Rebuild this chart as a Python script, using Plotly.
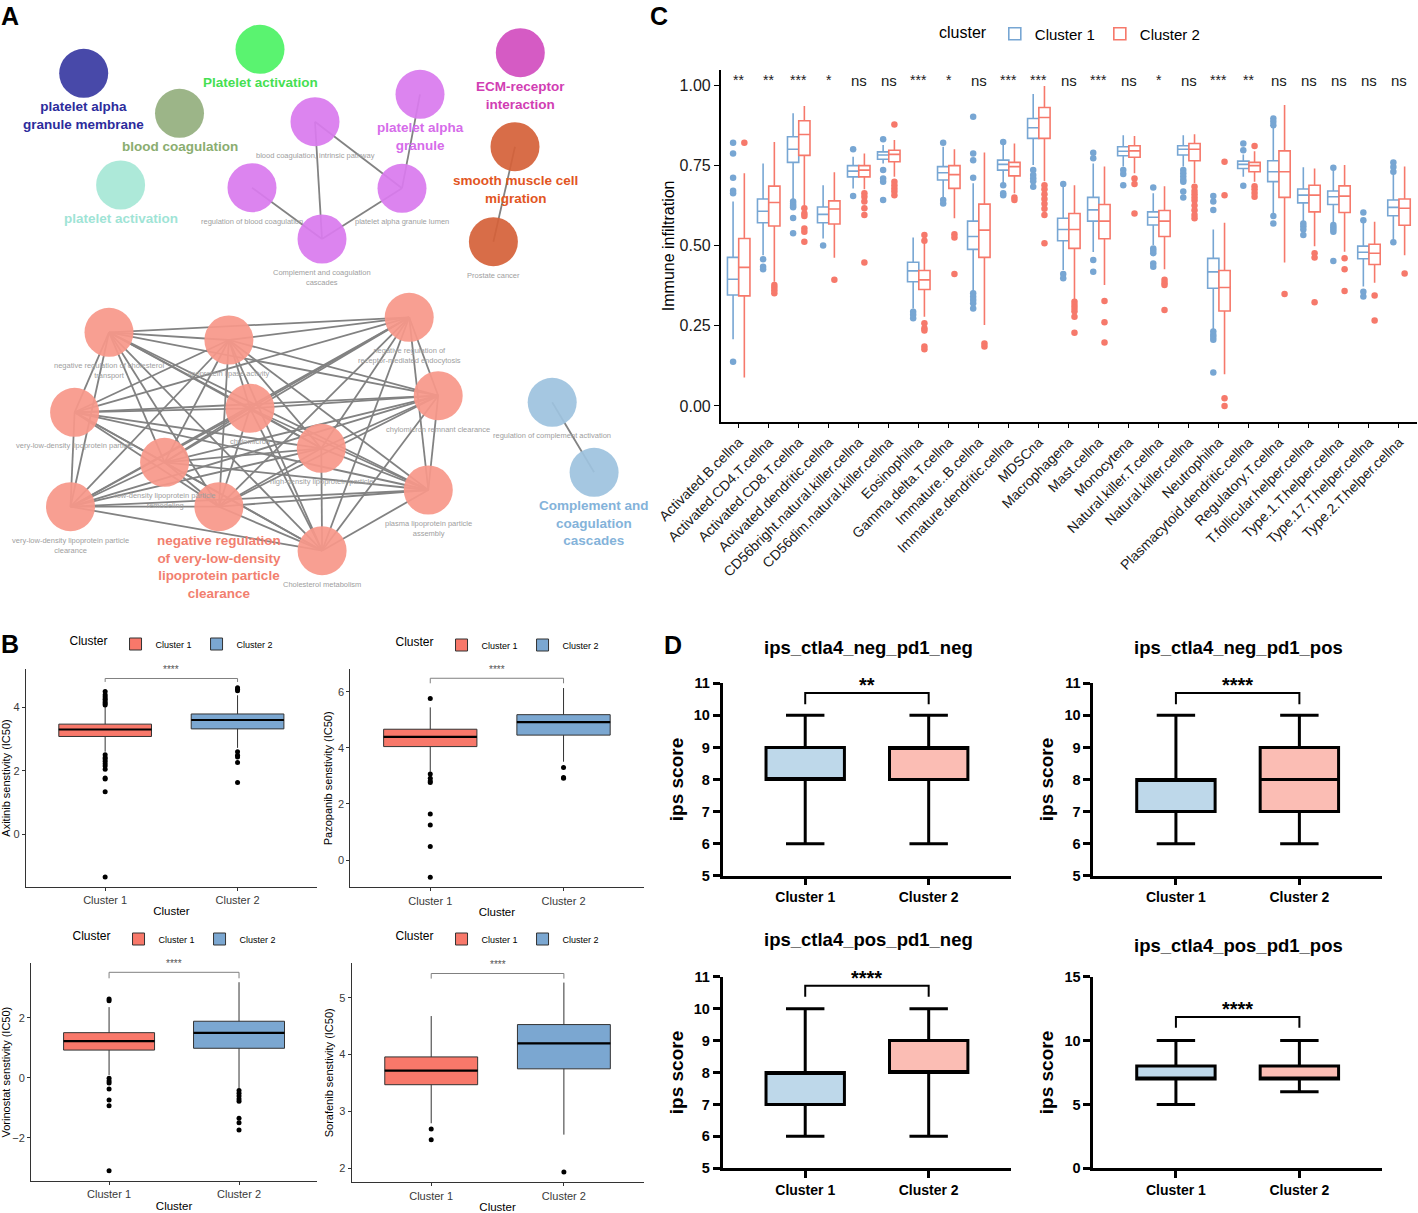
import itertools
import plotly.graph_objects as go

W, H = 1418, 1213
FONT = "Arial, Liberation Sans, sans-serif"

# ===================== DATA =====================
# ---- Panel A: enrichment network (node layout in panel units) ----
a_labels = [
    "platelet alpha<br>granule membrane", "Platelet activation", "blood coagulation",
    "platelet activation", "ECM-receptor<br>interaction",
    "blood coagulation, intrinsic pathway", "platelet alpha<br>granule",
    "regulation of blood coagulation", "platelet alpha granule lumen",
    "Complement and coagulation<br>cascades",
    "smooth muscle cell<br>migration", "Prostate cancer",
    "negative regulation of cholesterol<br>transport", "lipoprotein lipase activity",
    "negative regulation of<br>receptor-mediated endocytosis",
    "very-low-density lipoprotein particle", "chylomicron", "chylomicron remnant clearance",
    "high-density lipoprotein particle", "low-density lipoprotein particle<br>remodeling",
    "very-low-density lipoprotein particle<br>clearance",
    "negative regulation<br>of very-low-density<br>lipoprotein particle<br>clearance",
    "plasma lipoprotein particle<br>assembly", "Cholesterol metabolism",
    "regulation of complement activation", "Complement and<br>coagulation<br>cascades",
]
a_node_x = [83.7, 260, 179.5, 120.6, 520.3, 315, 420, 252, 402, 322, 515, 493.4,
            109, 228.9, 409.2, 74.6, 250, 438.2, 321.3, 164.6, 70.5, 218.9, 428.3, 322.1,
            552.2, 594.1]
a_node_y = [73.3, 49.3, 113.3, 185, 52.7, 121.7, 94.3, 187.7, 188.3, 239, 146.7, 241.7,
            332.3, 340, 317.3, 412.3, 408.3, 395.7, 448.3, 462.3, 506.7, 506.7, 490, 550.7,
            402.3, 472.3]
a_node_group = ["navy", "green", "olive", "mint", "magenta",
                "violet", "violet", "violet", "violet", "violet",
                "orange", "orange"] + ["salmon"] * 12 + ["blue", "blue"]
a_label_major = [True, True, True, True, True,
                 False, True, False, False, False,
                 True, False,
                 False, False, False, False, False, False, False, False, False, True, False, False,
                 False, True]
a_edges = [(5, 9), (5, 8), (6, 8), (7, 9), (8, 9), (10, 11), (24, 25)] + \
    list(itertools.combinations(range(12, 24), 2))

# ---- Panel C: ssGSEA immune infiltration ----
c_categories = ["Activated.B.cellna", "Activated.CD4.T.cellna", "Activated.CD8.T.cellna",
                "Activated.dendritic.cellna", "CD56bright.natural.killer.cellna",
                "CD56dim.natural.killer.cellna", "Eosinophilna", "Gamma.delta.T.cellna",
                "Immature..B.cellna", "Immature.dendritic.cellna", "MDSCna", "Macrophagena",
                "Mast.cellna", "Monocytena", "Natural.killer.T.cellna", "Natural.killer.cellna",
                "Neutrophilna", "Plasmacytoid.dendritic.cellna", "Regulatory.T.cellna",
                "T.follicular.helper.cellna", "Type.1.T.helper.cellna",
                "Type.17.T.helper.cellna", "Type.2.T.helper.cellna"]
c_sig = ["**", "**", "***", "*", "ns", "ns", "***", "*", "ns", "***", "***", "ns", "***",
         "ns", "*", "ns", "***", "**", "ns", "ns", "ns", "ns", "ns"]

c1_low = [0.208, 0.47, 0.642, 0.522, 0.678, 0.756, 0.304, 0.642, 0.356, 0.694, 0.751, 0.424,
          0.48, 0.746, 0.502, 0.746, 0.237, 0.714, 0.60, 0.574, 0.569, 0.372, 0.517]
c1_q1 = [0.346, 0.571, 0.759, 0.571, 0.714, 0.769, 0.387, 0.704, 0.488, 0.735, 0.834, 0.515,
         0.576, 0.78, 0.564, 0.782, 0.367, 0.74, 0.699, 0.633, 0.628, 0.459, 0.593]
c1_med = [0.395, 0.607, 0.80, 0.597, 0.732, 0.782, 0.421, 0.727, 0.528, 0.753, 0.867, 0.55,
          0.611, 0.794, 0.588, 0.80, 0.418, 0.753, 0.73, 0.657, 0.652, 0.479, 0.619]
c1_q3 = [0.463, 0.645, 0.839, 0.62, 0.749, 0.792, 0.448, 0.746, 0.576, 0.766, 0.896, 0.585,
         0.65, 0.808, 0.605, 0.811, 0.46, 0.763, 0.764, 0.676, 0.67, 0.498, 0.642]
c1_high = [0.637, 0.756, 0.912, 0.688, 0.777, 0.813, 0.525, 0.808, 0.694, 0.818, 0.972, 0.688,
           0.756, 0.844, 0.663, 0.844, 0.55, 0.784, 0.881, 0.744, 0.74, 0.579, 0.74]
c1_outliers = [
    [0.82, 0.787, 0.711, 0.671, 0.663, 0.138], [0.457, 0.434, 0.426],
    [0.637, 0.630, 0.624, 0.619, 0.586, 0.538], [0.50], [0.80, 0.654],
    [0.831, 0.735, 0.709, 0.699, 0.642], [0.294, 0.284, 0.273], [0.82, 0.642, 0.631],
    [0.901, 0.787, 0.766, 0.711, 0.351, 0.34, 0.33, 0.32, 0.304], [0.823, 0.688, 0.663, 0.657],
    [0.735, 0.72, 0.71, 0.70, 0.683], [0.692, 0.411, 0.398], [0.789, 0.772, 0.455, 0.418],
    [0.735, 0.723, 0.688], [0.681, 0.491, 0.484, 0.476, 0.444, 0.434],
    [0.735, 0.725, 0.715, 0.705, 0.699, 0.668, 0.65],
    [0.654, 0.637, 0.611, 0.232, 0.222, 0.215, 0.206, 0.104], [0.818, 0.797, 0.686],
    [0.896, 0.886, 0.875, 0.592, 0.569], [0.569, 0.56, 0.55, 0.533],
    [0.742, 0.564, 0.557, 0.55, 0.543, 0.452], [0.603, 0.579, 0.356, 0.341],
    [0.759, 0.745, 0.73, 0.51]]

c2_low = [0.089, 0.387, 0.625, 0.462, 0.675, 0.714, 0.278, 0.585, 0.252, 0.663, 0.70, 0.33,
          0.377, 0.725, 0.426, 0.695, 0.099, 0.699, 0.447, 0.498, 0.481, 0.384, 0.47]
c2_q1 = [0.343, 0.561, 0.781, 0.567, 0.714, 0.761, 0.363, 0.678, 0.463, 0.717, 0.834, 0.491,
         0.521, 0.775, 0.528, 0.764, 0.296, 0.73, 0.65, 0.605, 0.603, 0.441, 0.563]
c2_med = [0.432, 0.634, 0.846, 0.614, 0.735, 0.784, 0.393, 0.721, 0.548, 0.746, 0.899, 0.55,
          0.576, 0.795, 0.576, 0.80, 0.369, 0.749, 0.73, 0.657, 0.654, 0.476, 0.616]
c2_q3 = [0.522, 0.685, 0.889, 0.639, 0.749, 0.797, 0.422, 0.749, 0.629, 0.759, 0.930, 0.60,
         0.628, 0.811, 0.609, 0.818, 0.422, 0.759, 0.795, 0.688, 0.686, 0.504, 0.645]
c2_high = [0.725, 0.823, 0.935, 0.728, 0.787, 0.829, 0.517, 0.80, 0.79, 0.818, 0.997, 0.688,
           0.746, 0.841, 0.685, 0.847, 0.571, 0.794, 0.938, 0.74, 0.751, 0.574, 0.746]
c2_outliers = [
    [0.82], [0.377, 0.369, 0.361, 0.351], [0.616, 0.60, 0.592, 0.553, 0.543, 0.512], [0.393],
    [0.663, 0.652, 0.637, 0.616, 0.595, 0.447], [0.877, 0.699, 0.688, 0.678, 0.668, 0.657],
    [0.533, 0.515, 0.258, 0.242, 0.235, 0.185, 0.177], [0.535, 0.525, 0.411], [0.195, 0.185],
    [0.65, 0.642], [0.688, 0.675, 0.66, 0.645, 0.63, 0.615, 0.595, 0.507],
    [0.325, 0.315, 0.305, 0.295, 0.278, 0.228], [0.327, 0.261, 0.198], [0.709, 0.692, 0.60],
    [0.393, 0.384, 0.377, 0.299],
    [0.683, 0.67, 0.66, 0.65, 0.64, 0.625, 0.61, 0.595, 0.585], [0.761, 0.657, 0.024, 0.0],
    [0.81, 0.685, 0.675, 0.664, 0.652], [0.349], [0.476, 0.463, 0.323], [0.46, 0.426, 0.358],
    [0.344, 0.266], [0.413]]

# ---- Panel B: drug sensitivity (IC50) ----
b_drugs = ["Axitinib", "Pazopanib", "Vorinostat", "Sorafenib"]
b_groups = ["Cluster 1", "Cluster 2"]
b_c1_low = [2.6, 3.15, 0.09, 2.79]
b_c1_q1 = [3.08, 4.05, 0.92, 3.47]
b_c1_med = [3.30, 4.40, 1.22, 3.72]
b_c1_q3 = [3.47, 4.67, 1.50, 3.96]
b_c1_high = [4.02, 5.45, 2.35, 4.68]
b_c1_out = [[4.5, 4.4, 4.33, 4.27, 4.23, 4.17, 4.12, 4.07, 2.5, 2.42, 2.37, 2.3, 2.22, 2.15,
             2.05, 1.77, 1.74, 1.34, -1.35],
            [5.77, 3.07, 2.92, 2.82, 2.77, 1.64, 1.25, 0.48, -0.62],
            [2.62, 2.56, -0.02, -0.11, -0.18, -0.38, -0.74, -0.93, -3.1],
            [2.69, 2.5]]
b_c2_low = [2.72, 3.51, -0.35, 2.59]
b_c2_q1 = [3.32, 4.46, 0.98, 3.75]
b_c2_med = [3.60, 4.92, 1.49, 4.20]
b_c2_q3 = [3.79, 5.19, 1.88, 4.53]
b_c2_high = [4.38, 6.14, 3.18, 5.27]
b_c2_out = [[4.62, 4.57, 4.52, 2.6, 2.49, 2.43, 2.26, 1.63],
            [3.3, 2.95, 2.92],
            [-0.43, -0.52, -0.61, -0.71, -0.78, -1.35, -1.50, -1.74],
            [1.93]]
b_sig = ["****", "****", "****", "****"]

# ---- Panel D: immunophenoscore ----
d_titles = ["ips_ctla4_neg_pd1_neg", "ips_ctla4_neg_pd1_pos",
            "ips_ctla4_pos_pd1_neg", "ips_ctla4_pos_pd1_pos"]
d_sig = ["**", "****", "****", "****"]
d_c1_min = [6, 6, 6, 5]
d_c1_q1 = [8, 7, 7, 7]
d_c1_med = [8, 8, 8, 7]
d_c1_q3 = [9, 8, 8, 8]
d_c1_max = [10, 10, 10, 10]
d_c2_min = [6, 6, 6, 6]
d_c2_q1 = [8, 7, 8, 7]
d_c2_med = [9, 8, 8, 7]
d_c2_q3 = [9, 9, 9, 8]
d_c2_max = [10, 10, 10, 10]

# ===================== STYLE / GEOMETRY =====================
node_colors = {"navy": "#3A3BA3", "green": "#4DF265", "olive": "#94AF7F", "mint": "#A7E7D6",
               "magenta": "#D24FBF", "violet": "#D97BEE", "orange": "#D5623A",
               "salmon": "#F8988A", "blue": "#9EC3DF"}
label_colors = {"navy": "#2C2C9C", "green": "#45E052", "olive": "#8AAD70", "mint": "#9FE4D6",
                "magenta": "#D13DB3", "violet": "#D66CEA", "orange": "#E2561F",
                "salmon": "#F27F6F", "blue": "#84B3DA"}
C_BLUE, C_RED = "#77A6D3", "#F6796B"
B_RED, B_BLUE = "#F8786A", "#7BA7D1"
D_BLUE, D_PINK = "#BED8EA", "#FBBDB4"


def dom_x(a, b):
    return [a / W, b / W]


def dom_y(top, bottom):
    return [1 - bottom / H, 1 - top / H]


fig = go.Figure()
layout = dict(width=W, height=H, margin=dict(l=0, r=0, t=0, b=0, pad=0), autosize=False,
              paper_bgcolor="white", plot_bgcolor="white", boxmode="overlay",
              font=dict(family=FONT, color="black"), hovermode=False)
ann = []

# ===================== PANEL A =====================
ex, ey = [], []
for i, j in a_edges:
    ex += [a_node_x[i], a_node_x[j], None]
    ey += [a_node_y[i], a_node_y[j], None]
fig.add_trace(go.Scatter(x=ex, y=ey, mode="lines", line=dict(color="#828282", width=1.8),
                         showlegend=False, xaxis="x", yaxis="y"))
fig.add_trace(go.Scatter(x=a_node_x, y=a_node_y, mode="markers",
                         marker=dict(size=49, color=[node_colors[g] for g in a_node_group],
                                     opacity=0.93, line=dict(width=0)),
                         showlegend=False, xaxis="x", yaxis="y"))
for i, txt in enumerate(a_labels):
    major = a_label_major[i]
    ann.append(dict(x=a_node_x[i], y=a_node_y[i], xref="x", yref="y", text=txt,
                    showarrow=False, xanchor="center", yanchor="top",
                    yshift=-24 if major else -27,
                    font=dict(size=13.5 if major else 7.5,
                              color=label_colors[a_node_group[i]] if major else "#A0A0A0",
                              weight="bold" if major else "normal"),
                    align="center"))
layout["xaxis"] = dict(domain=dom_x(0, 650), range=[0, 650], visible=False, fixedrange=True,
                       automargin=False)
layout["yaxis"] = dict(domain=dom_y(0, 610), range=[610, 0], visible=False, fixedrange=True,
                       automargin=False)

# ===================== PANEL C =====================
n_c = len(c_categories)
dodge = 0.1875
for name, shift, low, q1, med, q3, high, outs, col in [
        ("Cluster 1", -dodge, c1_low, c1_q1, c1_med, c1_q3, c1_high, c1_outliers, C_BLUE),
        ("Cluster 2", dodge, c2_low, c2_q1, c2_med, c2_q3, c2_high, c2_outliers, C_RED)]:
    pos = [i + shift for i in range(n_c)]
    fig.add_trace(go.Box(x=pos, q1=q1, median=med, q3=q3, lowerfence=low, upperfence=high,
                         width=2 * dodge, whiskerwidth=0, boxpoints=False, fillcolor="white",
                         line=dict(color=col, width=1.6), name=name, legend="legend",
                         xaxis="x2", yaxis="y2"))
    ox, oy = [], []
    for p, vals in zip(pos, outs):
        ox += [p] * len(vals)
        oy += vals
    fig.add_trace(go.Scatter(x=ox, y=oy, mode="markers", marker=dict(color=col, size=6.5),
                             showlegend=False, xaxis="x2", yaxis="y2"))
for i, s in enumerate(c_sig):
    ann.append(dict(x=i, y=1.015, xref="x2", yref="y2", text=s, showarrow=False,
                    xanchor="center", yanchor="middle",
                    font=dict(size=15 if s == "ns" else 14, color="#1a1a1a")))
layout["xaxis2"] = dict(domain=dom_x(720.7, 1417), anchor="y2", range=[-0.6, n_c - 0.4],
                        tickvals=list(range(n_c)), ticktext=c_categories, tickangle=-45,
                        ticks="outside", ticklen=5, tickcolor="black", showline=True,
                        linecolor="black", linewidth=1.5, showgrid=False, zeroline=False,
                        tickfont=dict(size=14, color="#1a1a1a"), automargin=False)
layout["yaxis2"] = dict(domain=dom_y(70, 421.7), anchor="x2", range=[-0.049, 1.047],
                        tickvals=[0, 0.25, 0.5, 0.75, 1.0],
                        ticktext=["0.00", "0.25", "0.50", "0.75", "1.00"],
                        ticks="outside", ticklen=5, tickcolor="black", showline=True,
                        linecolor="black", linewidth=1.5, showgrid=False, zeroline=False,
                        tickfont=dict(size=16, color="#1a1a1a"), automargin=False,
                        title=dict(text="Immune infiltration", font=dict(size=16), standoff=1))
layout["legend"] = dict(orientation="h", x=1071 / W, xanchor="center", y=1 - 34 / H,
                        yanchor="middle", title=dict(text="cluster", side="left",
                                                     font=dict(size=16)),
                        font=dict(size=15), bgcolor="rgba(0,0,0,0)", itemwidth=30)

# ===================== PANEL B =====================
b_dom = [((25.7, 317), (669.3, 886.7)), ((350.3, 643.5), (669.3, 887.3)),
         ((31.1, 317), (963.3, 1181)), ((351.6, 643.5), (963.3, 1182.3))]
b_yrange = [(-1.66, 5.2), (-0.975, 6.81), (-3.44, 3.81), (1.75, 5.61)]
b_ticks = [[0, 2, 4], [0, 2, 4, 6], [-2, 0, 2], [2, 3, 4, 5]]
b_bracket = [(4.8, 4.91), (6.31, 6.49), (3.31, 3.51), (5.34, 5.43)]
b_legend_pos = [(173, 644), (499, 645), (176, 939), (499, 939)]
for k, drug in enumerate(b_drugs):
    ax = 3 + k
    xa, ya = f"x{ax}", f"y{ax}"
    lg = f"legend{k + 2}"
    for g, col, low, q1, med, q3, high, outs in [
            (b_groups[0], B_RED, b_c1_low, b_c1_q1, b_c1_med, b_c1_q3, b_c1_high, b_c1_out),
            (b_groups[1], B_BLUE, b_c2_low, b_c2_q1, b_c2_med, b_c2_q3, b_c2_high, b_c2_out)]:
        fig.add_trace(go.Box(x=[g], q1=[q1[k]], median=[med[k]], q3=[q3[k]],
                             lowerfence=[low[k]], upperfence=[high[k]], width=0.7,
                             whiskerwidth=0, boxpoints=False, fillcolor=col,
                             line=dict(color="#333333", width=1), name=g, legend=lg,
                             xaxis=xa, yaxis=ya))
        fig.add_trace(go.Box(x=[g], q1=[med[k]], median=[med[k]], q3=[med[k]],
                             lowerfence=[med[k]], upperfence=[med[k]], width=0.7,
                             whiskerwidth=0, boxpoints=False, fillcolor="rgba(0,0,0,0)",
                             line=dict(color="black", width=2.2), showlegend=False,
                             xaxis=xa, yaxis=ya))
        fig.add_trace(go.Scatter(x=[g] * len(outs[k]), y=outs[k], mode="markers",
                                 marker=dict(color="black", size=5), showlegend=False,
                                 xaxis=xa, yaxis=ya))
    leg, top = b_bracket[k]
    fig.add_trace(go.Scatter(x=[b_groups[0], b_groups[0], b_groups[1], b_groups[1]],
                             y=[leg, top, top, leg], mode="lines",
                             line=dict(color="#808080", width=1), showlegend=False,
                             xaxis=xa, yaxis=ya, cliponaxis=False))
    ann.append(dict(x=0.5, y=top, xref=xa, yref=ya, text=b_sig[k], showarrow=False,
                    xanchor="center", yanchor="middle", yshift=9,
                    font=dict(size=10, color="#555555")))
    (x0, x1), (y0, y1) = b_dom[k]
    layout[f"xaxis{ax}"] = dict(domain=dom_x(x0, x1), anchor=ya, type="category",
                                categoryorder="array", categoryarray=b_groups,
                                range=[-0.6, 1.6], showline=True, linecolor="#333333",
                                linewidth=1, ticks="outside", ticklen=3, tickcolor="#333333",
                                showgrid=False, zeroline=False, automargin=False,
                                tickfont=dict(size=11, color="#3a3a3a"),
                                title=dict(text="Cluster", font=dict(size=11.5), standoff=2))
    layout[f"yaxis{ax}"] = dict(domain=dom_y(y0, y1), anchor=xa, range=list(b_yrange[k]),
                                tickvals=b_ticks[k], showline=True, linecolor="#333333",
                                linewidth=1, ticks="outside", ticklen=3, tickcolor="#333333",
                                showgrid=False, zeroline=False, automargin=False,
                                tickfont=dict(size=11, color="#3a3a3a"),
                                title=dict(text=f"{drug} senstivity (IC50)",
                                           font=dict(size=11), standoff=3))
    lx, ly = b_legend_pos[k]
    layout[lg] = dict(orientation="h", x=lx / W, xanchor="center", y=1 - ly / H,
                      yanchor="middle", title=dict(text="Cluster", side="left",
                                                   font=dict(size=12)),
                      font=dict(size=9), bgcolor="rgba(0,0,0,0)", itemwidth=30)

# ===================== PANEL D =====================
d_dom = [((722.5, 1011.4), (683.3, 875.7)), ((1093.2, 1382.1), (683.3, 875.7)),
         ((722.5, 1011.4), (976.7, 1168.3)), ((1093.2, 1382.1), (976.7, 1168.3))]
d_yrange = [(5, 11), (5, 11), (5, 11), (0, 15)]
d_dtick = [1, 1, 1, 5]
d_bracket = [(10.35, 10.7), (10.35, 10.7), (10.375, 10.72), (11.0, 11.85)]
d_title_pos = [(868, 647), (1238, 647), (868, 940), (1238, 945)]
for k, title in enumerate(d_titles):
    ax = 7 + k
    xa, ya = f"x{ax}", f"y{ax}"
    for g, col, lo, q1, med, q3, hi in [
            (b_groups[0], D_BLUE, d_c1_min, d_c1_q1, d_c1_med, d_c1_q3, d_c1_max),
            (b_groups[1], D_PINK, d_c2_min, d_c2_q1, d_c2_med, d_c2_q3, d_c2_max)]:
        fig.add_trace(go.Box(x=[g], q1=[q1[k]], median=[med[k]], q3=[q3[k]],
                             lowerfence=[lo[k]], upperfence=[hi[k]], width=0.635,
                             whiskerwidth=0.49, boxpoints=False, fillcolor=col,
                             line=dict(color="black", width=3), showlegend=False,
                             xaxis=xa, yaxis=ya))
    leg, top = d_bracket[k]
    fig.add_trace(go.Scatter(x=[b_groups[0], b_groups[0], b_groups[1], b_groups[1]],
                             y=[leg, top, top, leg], mode="lines",
                             line=dict(color="black", width=2), showlegend=False,
                             xaxis=xa, yaxis=ya, cliponaxis=False))
    ann.append(dict(x=0.5, y=top, xref=xa, yref=ya, text=d_sig[k], showarrow=False,
                    xanchor="center", yanchor="middle", yshift=8,
                    font=dict(size=20, weight="bold")))
    tx, ty = d_title_pos[k]
    ann.append(dict(x=tx / W, y=1 - ty / H, xref="paper", yref="paper", text=title,
                    showarrow=False, xanchor="center", yanchor="middle",
                    font=dict(size=18.5, weight="bold")))
    (x0, x1), (y0, y1) = d_dom[k]
    layout[f"xaxis{ax}"] = dict(domain=dom_x(x0, x1), anchor=ya, type="category",
                                categoryorder="array", categoryarray=b_groups,
                                range=[-0.67, 1.67], showline=True, linecolor="black",
                                linewidth=2.5, ticks="outside", ticklen=7, tickwidth=2.5,
                                tickcolor="black", showgrid=False, zeroline=False,
                                automargin=False, tickfont=dict(size=14, weight="bold"))
    layout[f"yaxis{ax}"] = dict(domain=dom_y(y0, y1), anchor=xa, range=list(d_yrange[k]),
                                dtick=d_dtick[k], showline=True, linecolor="black",
                                linewidth=2.5, ticks="outside", ticklen=7, tickwidth=2.5,
                                tickcolor="black", showgrid=False, zeroline=False,
                                automargin=False, tickfont=dict(size=14.5, weight="bold"),
                                title=dict(text="ips score", font=dict(size=19, weight="bold"),
                                           standoff=6))

# ===================== PANEL LETTERS =====================
for letter, px, py in [("A", 10, 16), ("B", 10, 644), ("C", 659, 16), ("D", 673, 645)]:
    ann.append(dict(x=px / W, y=1 - py / H, xref="paper", yref="paper", text=letter,
                    showarrow=False, xanchor="center", yanchor="middle",
                    font=dict(size=25, weight="bold")))

layout["annotations"] = ann
fig.update_layout(**layout)
fig.write_html("out.html", config={"displayModeBar": False},
               post_script="document.body.style.margin='0px';"
                           "document.body.style.padding='0px';"
                           "document.body.style.overflow='hidden';")
